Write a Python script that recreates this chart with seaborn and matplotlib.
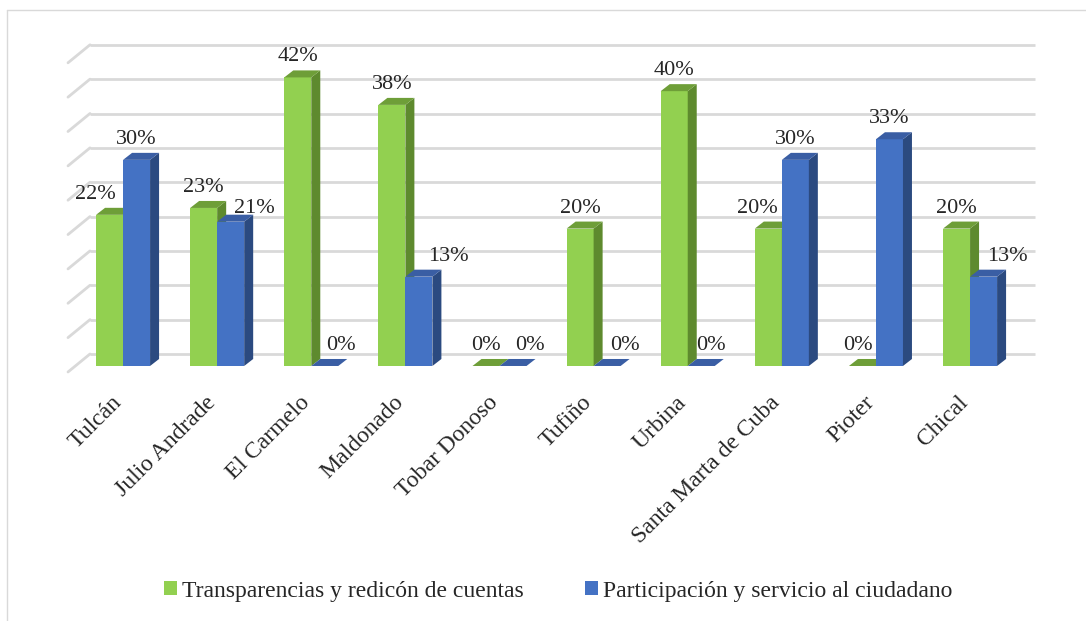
import matplotlib
matplotlib.use('Agg')
import matplotlib.pyplot as plt
from matplotlib.patches import Polygon, Patch
from matplotlib.lines import Line2D
from matplotlib.transforms import ScaledTranslation
import pandas as pd
import seaborn as sns

# ==========================================
# DATOS
# ==========================================
categorias = ['Tulcán', 'Julio Andrade', 'El Carmelo', 'Maldonado', 'Tobar Donoso',
              'Tufiño', 'Urbina', 'Santa Marta de Cuba', 'Pioter', 'Chical']
transparencia = [22, 23, 42, 38, 0, 20, 40, 20, 0, 20]
participacion = [30, 21, 0, 13, 0, 0, 0, 30, 33, 13]
series = ['Transparencias y redicón de cuentas', 'Participación y servicio al ciudadano']
ticks_y = list(range(0, 50, 5))

# desplazamiento de las etiquetas (en px) respecto a cada barra
dx_etiqueta = [[-14, 0, 0, 0, 0, 0, 0, -11, -5, 0],
               [0, 24, 16, 30, 17, 18, 10, 0, 0, 24]]
dy_etiqueta = [[16] * 10,
               [16, 9, 16, 16, 16, 16, 16, 16, 16, 16]]

frente = ['#92D050', '#4472C4']
lateral = ['#5E8A2E', '#2B4A80']
superior = ['#6E9E38', '#3A5EA4']

df = pd.DataFrame({
    'lugar': categorias * 2,
    'serie': [series[0]] * len(categorias) + [series[1]] * len(categorias),
    'valor': transparencia + participacion,
})

sns.set_style('white')
plt.rcParams['font.family'] = ['Liberation Serif', 'DejaVu Serif']

W, H = 1086, 621
fig = plt.figure(figsize=(W / 100, H / 100), dpi=100)
ax = fig.add_axes([68 / W, 1 - 380 / H, 967 / W, 350 / H])

sns.barplot(data=df, x='lugar', y='valor', hue='serie', palette=frente,
            width=0.574, saturation=1, legend=False, ax=ax, linewidth=0)

x0, x1 = -0.585, 9.69
y0, y1 = -2.04, 48.9
ax.set_xlim(x0, x1)
ax.set_ylim(y0, y1)
ux = (x1 - x0) / 967   # unidades de datos por pixel
uy = (y1 - y0) / 350

# lineas de cuadricula en la pared del fondo (efecto 3D)
for v in ticks_y:
    ax.plot([x0 + 22 * ux, x1], [v + 12 * uy, v + 12 * uy], color='#D9D9D9',
            lw=2, zorder=0, clip_on=False, solid_capstyle='butt')
    ax.plot([x0, x0 + 22 * ux], [v - 6 * uy, v + 12 * uy], color='#D9D9D9',
            lw=2, zorder=0, clip_on=False)

# caras laterales y superiores de cada barra
dx, dy = 9 * ux, 7 * uy
barras = sorted(ax.patches, key=lambda p: p.get_x())
for k, p in enumerate(barras):
    s = k % 2
    g = k // 2
    x, w, h = p.get_x(), p.get_width(), p.get_height()
    p.set_zorder(2 + s * 0.2)
    lado = Polygon([(x + w, 0), (x + w, h), (x + w + dx, h + dy), (x + w + dx, dy)],
                   closed=True, facecolor=lateral[s], edgecolor='none', zorder=2.1 + s * 0.2)
    tapa = Polygon([(x, h), (x + w, h), (x + w + dx, h + dy), (x + dx, h + dy)],
                   closed=True, facecolor=superior[s], edgecolor='none', zorder=2.1 + s * 0.2)
    ax.add_patch(lado)
    ax.add_patch(tapa)
    ax.text(x + w / 2 + dx_etiqueta[s][g] * ux, h + dy_etiqueta[s][g] * uy, f'{h:.0f}%',
            ha='center', va='baseline', fontsize=16, zorder=5)

ax.set_yticks([])
ax.set_xlabel('')
ax.set_ylabel('')
ax.set_xticks(range(len(categorias)))
ax.set_xticklabels(categorias, rotation=45, ha='right', va='center',
                   rotation_mode='anchor', fontsize=17)
ax.tick_params(axis='x', length=0, pad=14)
for lbl in ax.get_xticklabels():
    lbl.set_transform(lbl.get_transform() + ScaledTranslation(-5 / 100, 0, fig.dpi_scale_trans))
sns.despine(ax=ax, left=True, bottom=True)
ax.patch.set_alpha(0)

# marco del grafico
fig.add_artist(Line2D([7 / W, 7 / W], [0, 1 - 10 / H], color='#D9D9D9', lw=1))
fig.add_artist(Line2D([7 / W, 1], [1 - 10 / H, 1 - 10 / H], color='#D9D9D9', lw=1))

manijas = [Patch(facecolor=c, edgecolor='none') for c in frente]
fig.legend(manijas, series, loc='center', bbox_to_anchor=(0.514, 1 - 591 / H), ncol=2,
           frameon=False, fontsize=17, handlelength=0.55, handleheight=0.55,
           handletextpad=0.2, columnspacing=2.6)

plt.savefig('out.png', dpi=100)
